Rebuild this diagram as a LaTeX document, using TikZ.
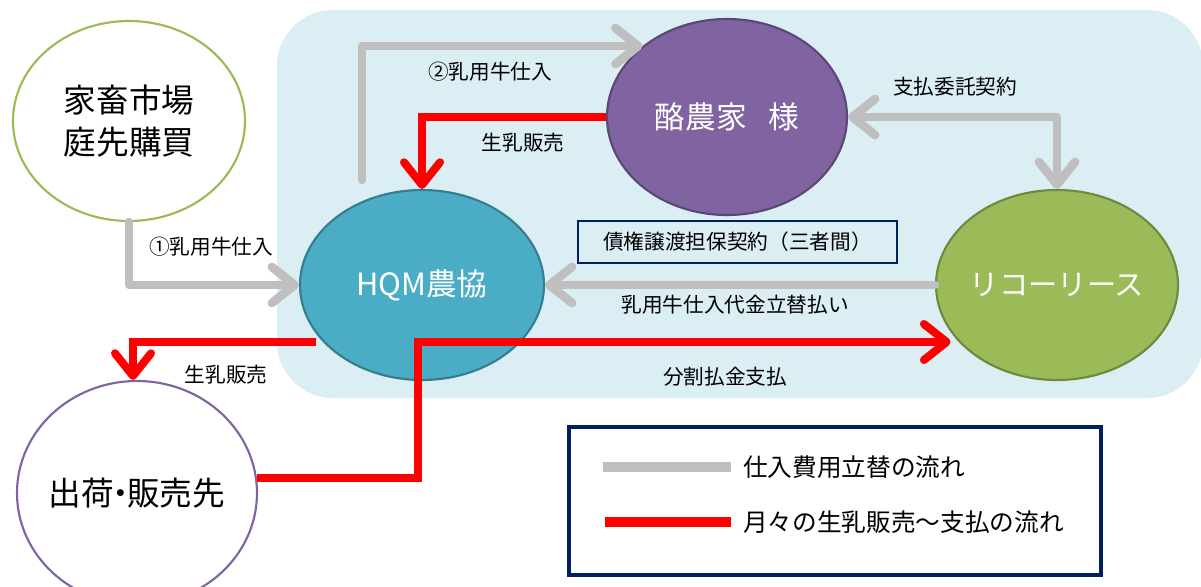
\documentclass[tikz,border=0pt]{standalone}
\usepackage{fontspec}
\setmainfont{Noto Sans CJK JP}
\usetikzlibrary{shapes.geometric,arrows.meta}
\definecolor{bgblue}{HTML}{DAEEF3}
\definecolor{gline}{HTML}{BFBFBF}
\definecolor{rline}{HTML}{FF0000}
\definecolor{navy}{HTML}{002060}
\definecolor{hqmfill}{HTML}{4BACC6}
\definecolor{hqmdraw}{HTML}{357D91}
\definecolor{rakfill}{HTML}{8064A2}
\definecolor{rakdraw}{HTML}{5C4776}
\definecolor{ricfill}{HTML}{9BBB59}
\definecolor{ricdraw}{HTML}{71893F}
\definecolor{kgreen}{HTML}{9BBB59}
\definecolor{spurple}{HTML}{8064A2}
\newcommand{\zbox}[1]{\makebox[0pt][c]{#1}}
\tikzset{
  ell/.style={ellipse, inner sep=0pt, line width=1.6pt, align=center},
  bigtxt/.style={font=\fontsize{23}{30}\selectfont},
  blacktxt/.style={font=\fontsize{24.5}{31}\selectfont},
  lbl/.style={font=\fontsize{15.5}{18}\selectfont, text=black, inner sep=0pt},
  gflow/.style={draw=gline, line width=6.5pt, line cap=round, line join=round},
  rflow/.style={draw=rline, line width=6pt, line join=miter},
  tipg/.style={-{Straight Barb[length=17pt,width=27pt,round]}},
  tipr/.style={-{Straight Barb[length=17pt,width=27pt,round]}},
}
\begin{document}
\begin{tikzpicture}[x=0.75pt,y=-0.75pt]
\useasboundingbox (0,0) rectangle (1201,586);
\fill[white] (0,0) rectangle (1201,586);
% background panel
\fill[bgblue, rounded corners=42pt] (277,10) rectangle (1203,398);

% nodes
\node[ell, draw=kgreen, fill=white, minimum width=174pt, minimum height=150pt, blacktxt] (kachiku) at (129,121) {\zbox{家畜市場}\\\zbox{庭先購買}};
\node[ell, draw=hqmdraw, fill=hqmfill, minimum width=183pt, minimum height=142.5pt, bigtxt, text=white] (hqm) at (422,285) {\zbox{HQM農協}};
\node[ell, draw=rakdraw, fill=rakfill, minimum width=180pt, minimum height=147pt, bigtxt, text=white] (rakuno) at (727,117) {\zbox{酪農家\hspace{0.7em}様}};
\node[ell, draw=ricdraw, fill=ricfill, minimum width=181.5pt, minimum height=142.5pt, bigtxt, text=white] (ricoh) at (1057,285) {\zbox{\fontsize{22}{28}\selectfont リコーリース}};
\node[ell, draw=spurple, fill=white, minimum width=180pt, minimum height=168pt, blacktxt] (shukka) at (137,493) {\zbox{出荷\hspace{-0.3em}・\hspace{-0.3em}販売先}};

% contract box
\node[draw=navy, line width=1.5pt, minimum width=239pt, minimum height=31.5pt, inner sep=0pt, font=\fontsize{15.5}{18}\selectfont] (keiyaku) at (737.5,241.5) {債権譲渡担保契約（三者間）};

% coordinates
\coordinate (c2) at (362,180);
\coordinate (c3) at (316,342);
\coordinate (rj) at (418,342);

% gray flows
\draw[gflow, tipg] (kachiku.south) |- (hqm.west);
\draw[gflow, tipg] (c2) |- (rakuno.140);
\draw[gflow, {Straight Barb[length=17pt,width=27pt,round]}-{Straight Barb[length=17pt,width=27pt,round]}] (rakuno.east) -| (ricoh.north);
\draw[gflow, tipg] (ricoh.west) -- (hqm.east);

% red flows
\draw[rflow, tipr] (rakuno.west) -| (hqm.north);
\draw[rflow, tipr] (c3) -| ([xshift=-3pt]shukka.north);
\draw[rflow, tipr, shorten >=6pt] (shukka.7) -| (rj) -- (ricoh.210 |- rj);

% labels
\node[lbl] (l1) at (211,247) {①乳用牛仕入};
\node[lbl] (l2) at (490,72) {②乳用牛仕入};
\node[lbl] (l3) at (523,143) {生乳販売};
\node[lbl] (l4) at (955,87) {支払委託契約};
\node[lbl] (l5) at (735,305) {乳用牛仕入代金立替払い};
\node[lbl] (l6) at (226,375) {生乳販売};
\node[lbl] (l7) at (725,377) {分割払金支払};

% legend
\node[draw=navy, line width=3pt, minimum width=399pt, minimum height=111pt, inner sep=0pt] (legend) at (834.5,500.5) {};
\coordinate (lg1a) at (603,467);
\coordinate (lg1b) at (731,467);
\coordinate (lg2a) at (605,522);
\coordinate (lg2b) at (731,522);
\draw[draw=gline, line width=7pt] (lg1a) -- (lg1b);
\draw[draw=rline, line width=7pt] (lg2a) -- (lg2b);
\node[anchor=west, inner sep=0pt, font=\fontsize{18.5}{22}\selectfont] (lt1) at (743,467) {仕入費用立替の流れ};
\node[anchor=west, inner sep=0pt, font=\fontsize{18.5}{22}\selectfont] (lt2) at (743,522) {月々の生乳販売～支払の流れ};
\end{tikzpicture}
\end{document}
